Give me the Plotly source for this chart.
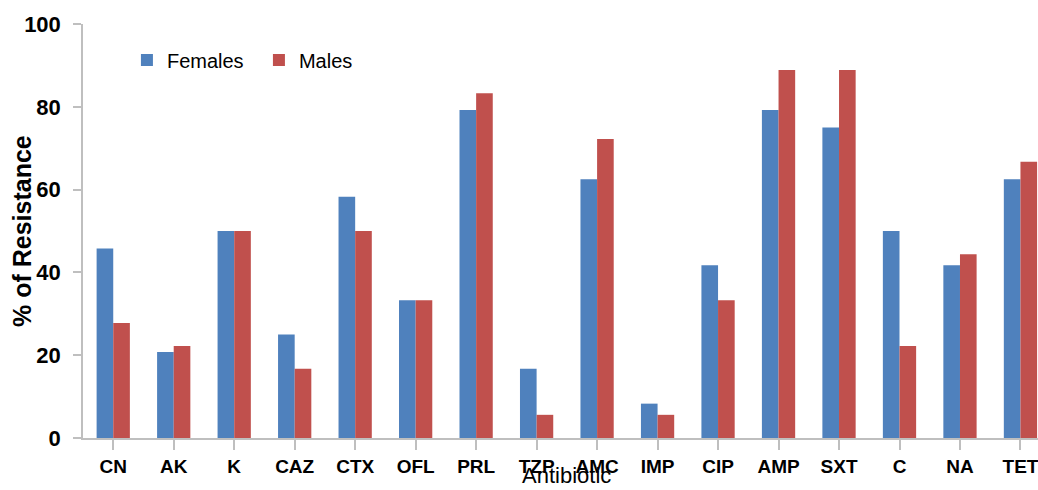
import plotly.graph_objects as go

categories = ["CN", "AK", "K", "CAZ", "CTX", "OFL", "PRL", "TZP", "AMC", "IMP",
              "CIP", "AMP", "SXT", "C", "NA", "TET"]
females = [45.8, 20.8, 50.0, 25.0, 58.3, 33.3, 79.2, 16.7, 62.5, 8.3,
           41.7, 79.2, 75.0, 50.0, 41.7, 62.5]
males = [27.8, 22.2, 50.0, 16.7, 50.0, 33.3, 83.3, 5.6, 72.2, 5.6,
         33.3, 88.9, 88.9, 22.2, 44.4, 66.7]
y_ticks = [0, 20, 40, 60, 80, 100]

FONT = "Liberation Sans, Arial, sans-serif"
AXIS = "#BFBFBF"

fig = go.Figure()
fig.add_trace(go.Bar(name="Females", x=list(range(len(categories))), y=females,
                     marker=dict(color="#4F81BD", line=dict(width=0))))
fig.add_trace(go.Bar(name="Males", x=list(range(len(categories))), y=males,
                     marker=dict(color="#C0504D", line=dict(width=0))))

fig.update_layout(
    width=1038, height=490,
    margin=dict(l=83, r=0, t=24, b=52, autoexpand=False),
    paper_bgcolor="white", plot_bgcolor="white",
    barmode="group", bargap=0.45, bargroupgap=0,
    font=dict(family=FONT, color="#000000"),
    legend=dict(orientation="h", x=0.046, y=0.913, xanchor="left", yanchor="middle",
                font=dict(size=20, family=FONT), bgcolor="rgba(0,0,0,0)",
                itemwidth=30, tracegroupgap=0,
                entrywidth=87, entrywidthmode="pixels"),
    showlegend=True,
)
fig.update_xaxes(
    tickmode="array", tickvals=list(range(len(categories))), ticktext=categories,
    range=[-0.5, 15.29], showgrid=False, zeroline=False, automargin=False,
    showline=True, linecolor=AXIS, linewidth=1.5,
    ticks="outside", ticklen=10, tickcolor=AXIS, tickwidth=1.5,
    tickson="boundaries", ticklabelstandoff=0, ticklabeloverflow="allow",
    tickfont=dict(size=19, family=FONT, weight="bold", color="#000000"),
)
fig.update_yaxes(
    range=[0, 100], tickmode="array", tickvals=y_ticks,
    showgrid=False, zeroline=False, automargin=False,
    showline=True, linecolor=AXIS, linewidth=1.5,
    ticks="outside", ticklen=8, tickcolor=AXIS, tickwidth=1.5,
    ticklabelstandoff=8,
    tickfont=dict(size=22, family=FONT, weight="bold", color="#000000"),
)
fig.add_annotation(text="% of Resistance", textangle=-90,
                   x=(22 - 83) / 955, xref="paper", xanchor="center",
                   y=0.5, yref="paper", yanchor="middle", showarrow=False,
                   font=dict(size=25, family=FONT, weight="bold", color="#000000"))
fig.add_annotation(text="Antibiotic", x=7.5, xref="x",
                   y=-(475 - 438) / 414, yref="paper", yanchor="middle",
                   showarrow=False, font=dict(size=22, family=FONT, color="#000000"))

fig.write_html("out.html", config={"displayModeBar": False},
               post_script="document.body.style.margin='0';document.body.style.padding='0';")
